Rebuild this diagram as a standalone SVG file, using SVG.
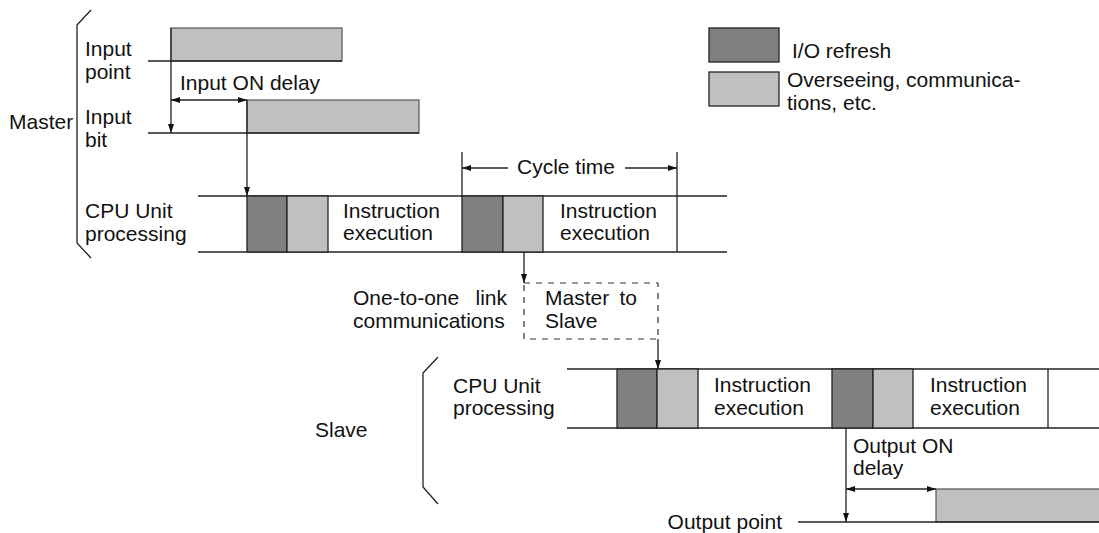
<svg xmlns="http://www.w3.org/2000/svg" width="1099" height="533" viewBox="0 0 1099 533">
<style>
text{font-family:"Liberation Sans",Arial,sans-serif;font-size:21px;fill:#111}
.ln{stroke:#222;stroke-width:1.3;fill:none}
.dk{fill:#808080;stroke:#222;stroke-width:1.3}
.lt{fill:#c0c0c0;stroke:#222;stroke-width:1.3}
.sig{fill:#c0c0c0;stroke:#555;stroke-width:1.2}
.dash{stroke:#333;stroke-width:1.2;fill:none;stroke-dasharray:6 6}
.ar{stroke:#222;stroke-width:1.3;fill:none;marker-end:url(#ah)}
.ar2{stroke:#222;stroke-width:1.3;fill:none;marker-end:url(#ah);marker-start:url(#ahs)}
</style>
<defs>
<marker id="ah" markerUnits="userSpaceOnUse" markerWidth="10" markerHeight="8" refX="9" refY="4" orient="auto"><path d="M0,1 L9,4 L0,7 z" fill="#111"/></marker>
<marker id="ahs" markerUnits="userSpaceOnUse" markerWidth="10" markerHeight="8" refX="9" refY="4" orient="auto-start-reverse"><path d="M0,1 L9,4 L0,7 z" fill="#111"/></marker>
</defs>
<rect width="1099" height="533" fill="#fff"/>

<g id="legend">
<rect class="dk" x="709" y="28" width="70" height="34"/>
<rect class="lt" x="709" y="72" width="70" height="34"/>
<text x="792" y="58">I/O refresh</text>
<text x="787" y="87">Overseeing, communica-</text>
<text x="787" y="110">tions, etc.</text>
</g>

<g id="master-bracket">
<polyline class="ln" points="91,10 77,25 77,243 91,258"/>
<text x="9" y="129">Master</text>
</g>

<g id="input-point">
<rect class="sig" x="171" y="28" width="171" height="33"/>
<line class="ln" x1="148" y1="61" x2="342" y2="61"/>
<text x="85" y="56">Input</text>
<text x="85" y="79">point</text>
</g>

<g id="input-bit">
<rect class="sig" x="247" y="100" width="172" height="33"/>
<line class="ln" x1="148" y1="133" x2="419" y2="133"/>
<text x="85" y="124">Input</text>
<text x="85" y="147">bit</text>
<text x="180" y="90">Input ON delay</text>
</g>

<g id="master-cpu">
<line class="ln" x1="198" y1="196" x2="727" y2="196"/>
<line class="ln" x1="198" y1="252" x2="727" y2="252"/>
<rect class="dk" x="247" y="196" width="40" height="56"/>
<rect class="lt" x="287" y="196" width="41" height="56"/>
<rect class="dk" x="462" y="196" width="41" height="56"/>
<rect class="lt" x="503" y="196" width="40" height="56"/>
<line class="ln" x1="677" y1="196" x2="677" y2="252"/>
<text x="85" y="218">CPU Unit</text>
<text x="85" y="241">processing</text>
<text x="343" y="218">Instruction</text>
<text x="343" y="240">execution</text>
<text x="560" y="218">Instruction</text>
<text x="560" y="240">execution</text>
</g>

<g id="cycle-time">
<line class="ln" x1="462" y1="152" x2="462" y2="196"/>
<line class="ln" x1="677" y1="152" x2="677" y2="196"/>
<text x="517" y="174">Cycle time</text>
</g>

<g id="link">
<rect class="dash" x="524" y="283" width="134" height="56"/>
<text x="353" y="305">One-to-one</text>
<text x="507" y="305" text-anchor="end">link</text>
<text x="353" y="328">communications</text>
<text x="545" y="305">Master</text>
<text x="637" y="305" text-anchor="end">to</text>
<text x="545" y="328">Slave</text>
</g>

<g id="slave-bracket">
<polyline class="ln" points="438,357 423,373 423,487 438,504"/>
<text x="315" y="437">Slave</text>
</g>

<g id="slave-cpu">
<line class="ln" x1="567" y1="369" x2="1099" y2="369"/>
<line class="ln" x1="567" y1="428" x2="1099" y2="428"/>
<rect class="dk" x="617" y="369" width="40" height="59"/>
<rect class="lt" x="657" y="369" width="41" height="59"/>
<rect class="dk" x="832" y="369" width="41" height="59"/>
<rect class="lt" x="873" y="369" width="40" height="59"/>
<line class="ln" x1="1048" y1="369" x2="1048" y2="428"/>
<text x="453" y="393">CPU Unit</text>
<text x="453" y="415">processing</text>
<text x="714" y="392">Instruction</text>
<text x="714" y="415">execution</text>
<text x="930" y="392">Instruction</text>
<text x="930" y="415">execution</text>
</g>

<g id="output-point">
<rect class="sig" x="936" y="489" width="170" height="33"/>
<line class="ln" x1="798" y1="522" x2="1099" y2="522"/>
<text x="782" y="529" text-anchor="end">Output point</text>
<text x="853" y="453">Output ON</text>
<text x="853" y="475">delay</text>
</g>

<g id="connectors">
<line class="ar" x1="171" y1="28" x2="171" y2="133"/>
<line class="ar2" x1="171" y1="100" x2="247" y2="100"/>
<line class="ar" x1="247" y1="100" x2="247" y2="196"/>
<line class="ar" x1="508" y1="168" x2="462" y2="168"/>
<line class="ar" x1="625" y1="168" x2="677" y2="168"/>
<line class="ar" x1="524" y1="252" x2="524" y2="283"/>
<line class="ar" x1="658" y1="339" x2="658" y2="369"/>
<line class="ar" x1="846" y1="428" x2="846" y2="522"/>
<line class="ar2" x1="846" y1="489" x2="936" y2="489"/>
</g>
</svg>
